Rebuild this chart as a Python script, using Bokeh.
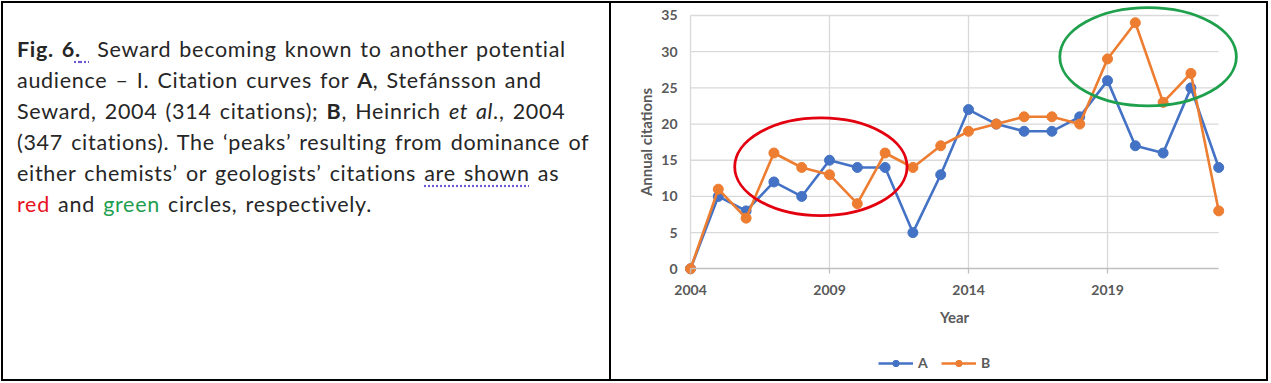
from bokeh.plotting import figure
from bokeh.models import Div, FixedTicker, Legend, LegendItem, Range1d, LinearAxis
from bokeh.layouts import row
from bokeh.embed import file_html
from bokeh.resources import INLINE

# ---- data ----
years = list(range(2004, 2024))
series_a = [0, 10, 8, 12, 10, 15, 14, 14, 5, 13, 22, 20, 19, 19, 21, 26, 17, 16, 25, 14]
series_b = [0, 11, 7, 16, 14, 13, 9, 16, 14, 17, 19, 20, 21, 21, 20, 29, 34, 23, 27, 8]
x_ticks = [2004, 2009, 2014, 2019]
y_ticks = [0, 5, 10, 15, 20, 25, 30, 35]
series_names = ["A", "B"]
series_colors = ["#4472C4", "#ED7D31"]

# highlight circles (annotation ellipses, data units)
ellipse_x = [2008.69, 2020.46]
ellipse_y = [14.1, 29.3]
ellipse_w = [6.2, 6.35]
ellipse_h = [13.5, 13.6]
ellipse_colors = ["#e3000f", "#1fa04c"]

# ---- left caption ----
ul = "text-decoration: underline dotted #6b5bd0; text-underline-offset: 4px;"
caption_html = f"""
<div style="font-family: Lato, sans-serif; font-size: 21.5px; line-height: 31px; color: #262626;
            letter-spacing: 0.7px; word-spacing: 2px;
            padding: 31px 0 0 14px; white-space: nowrap;">
<b>Fig. 6</b><b style="{ul}">.</b><span style="{ul}">&nbsp;</span> Seward becoming known to another potential<br>
audience &ndash; I. Citation curves for <b>A</b>, Stef&aacute;nsson and<br>
Seward, 2004 (314 citations); <b>B</b>, Heinrich <i>et al</i>., 2004<br>
(347 citations). The &lsquo;peaks&rsquo; resulting from dominance of<br>
either chemists&rsquo; or geologists&rsquo; citations <span style="{ul}">are shown</span> as<br>
<span style="color:#e81123;">red</span> and <span style="color:#1e9e4e;">green</span> circles, respectively.
</div>
"""
caption = Div(text=caption_html, width=606, height=376, margin=(0, 0, 0, 0),
              styles={"border-right": "2px solid black", "box-sizing": "content-box"})

# ---- chart ----
p = figure(width=655, height=376, output_backend="svg", toolbar_location=None,
           x_range=Range1d(2001.158, 2024.719), y_range=Range1d(-15.297, 36.658),
           min_border_left=0, min_border_right=0, min_border_top=0, min_border_bottom=0,
           x_axis_location=None, y_axis_location=None, margin=(0, 0, 0, 0))
p.outline_line_color = None
p.background_fill_color = "white"
p.border_fill_color = "white"
p.grid.visible = False

font = "Lato"
lab_color = "#595959"
grid_color = "#d9d9d9"

# gridlines bounded to the data area
x_first, x_last = years[0], years[-1]
y_bottom, y_top = y_ticks[0], y_ticks[-1]
p.segment(x0=x_ticks, y0=[y_bottom] * len(x_ticks), x1=x_ticks, y1=[y_top] * len(x_ticks),
          line_color=grid_color, line_width=1.3)
p.segment(x0=[x_first] * (len(y_ticks) - 1), y0=y_ticks[1:], x1=[x_last] * (len(y_ticks) - 1),
          y1=y_ticks[1:], line_color=grid_color, line_width=1.3)

xaxis = LinearAxis(ticker=FixedTicker(ticks=x_ticks), fixed_location=y_bottom,
                   bounds=(x_first, x_last))
p.add_layout(xaxis, "below")
xaxis.axis_line_color = "#bfbfbf"
xaxis.axis_line_width = 1.3
xaxis.major_tick_line_color = "#bfbfbf"
xaxis.major_tick_line_width = 1.3
xaxis.major_tick_out = 5
xaxis.major_tick_in = 0
xaxis.minor_tick_line_color = None
xaxis.major_label_standoff = 11
xaxis.axis_label = "Year"
xaxis.axis_label_standoff = 10

yaxis = LinearAxis(ticker=FixedTicker(ticks=y_ticks), fixed_location=x_first,
                   bounds=(y_bottom, y_top))
p.add_layout(yaxis, "left")
yaxis.axis_line_color = None
yaxis.major_tick_line_color = None
yaxis.minor_tick_line_color = None
yaxis.major_tick_out = 0
yaxis.major_tick_in = 0
yaxis.major_label_standoff = 13
yaxis.axis_label = "Annual citations"
yaxis.axis_label_standoff = 3

for ax in (xaxis, yaxis):
    ax.major_label_text_font = font
    ax.major_label_text_font_size = "14px"
    ax.major_label_text_font_style = "bold"
    ax.major_label_text_color = lab_color
    ax.axis_label_text_font = font
    ax.axis_label_text_font_size = "15px"
    ax.axis_label_text_font_style = "bold"
    ax.axis_label_text_color = lab_color

items = []
for name, vals, col in zip(series_names, [series_a, series_b], series_colors):
    ln = p.line(years, vals, line_color=col, line_width=2.6)
    sc = p.scatter(years, vals, size=10, fill_color=col, line_color=col)
    items.append(LegendItem(label=name, renderers=[ln, sc]))

p.ellipse(x=ellipse_x, y=ellipse_y, width=ellipse_w, height=ellipse_h,
          fill_color=None, line_color=ellipse_colors, line_width=2.8)

legend = Legend(items=items, orientation="horizontal", location=(267, 8),
                glyph_width=35, glyph_height=16, label_standoff=5, spacing=3,
                padding=0, margin=0, border_line_color=None, background_fill_alpha=0,
                label_text_font=font, label_text_font_size="14px",
                label_text_font_style="bold", label_text_color=lab_color)
p.add_layout(legend, "center")

layout = row(caption, p, margin=(1, 0, 0, 1), styles={"border": "2px solid black"})

open("out.html", "w").write(file_html(layout, INLINE))
